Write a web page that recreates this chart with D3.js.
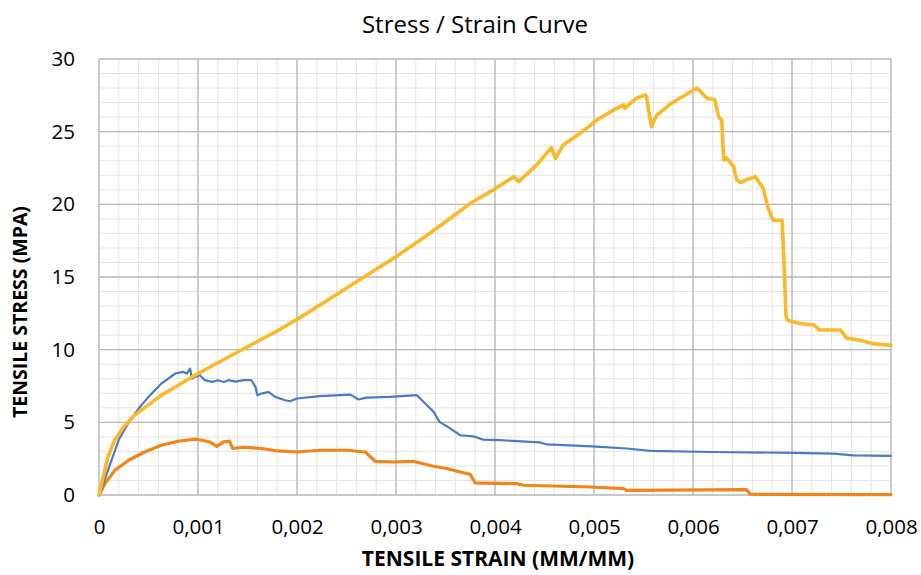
<!DOCTYPE html>
<html lang="en">
<head>
  <meta charset="UTF-8">
  <title>Stress / Strain Curve</title>
  <script src="https://d3js.org/d3.v7.min.js"></script>
  <style>
    body { margin: 0; background: #fff; }
    text { font-family: "Open Sans", "Liberation Sans", sans-serif; fill: #000; }
  </style>
</head>
<body>
  <script>
    // data: [strain, stress]
    const yellowSeries = [
      [0, 0], [0.00004, 1.2], [0.00009, 2.6], [0.00016, 3.8], [0.00025, 4.7], [0.00036, 5.5],
      [0.0005, 6.2], [0.00063, 6.87], [0.0008, 7.55], [0.00097, 8.24], [0.0012, 9.1], [0.0015, 10.2],
      [0.00183, 11.4], [0.0021, 12.5], [0.0024, 13.8], [0.0027, 15.1], [0.003, 16.4], [0.0033, 17.8],
      [0.0036, 19.3], [0.00375, 20.07], [0.00398, 20.98], [0.00419, 21.9], [0.00424, 21.56],
      [0.00442, 22.7], [0.00457, 23.9], [0.00461, 23.17], [0.00469, 24.08], [0.00486, 24.89],
      [0.00503, 25.8], [0.0052, 26.5], [0.0053, 26.84], [0.00531, 26.6], [0.00543, 27.3],
      [0.00552, 27.53], [0.00553, 27.4], [0.00558, 25.34], [0.00563, 26.1], [0.00577, 26.9],
      [0.00604, 28.0], [0.00614, 27.3], [0.00622, 27.2], [0.00626, 26.0], [0.00629, 25.8],
      [0.00631, 23.05], [0.00634, 23.2], [0.00641, 22.6], [0.00644, 21.7], [0.00648, 21.5],
      [0.00654, 21.7], [0.00663, 21.9], [0.00671, 21.1], [0.00676, 19.7], [0.00681, 18.9],
      [0.0069, 18.9], [0.00691, 17.5], [0.00694, 12.3], [0.00696, 12.0], [0.00708, 11.8],
      [0.00722, 11.7], [0.00728, 11.35], [0.00749, 11.35], [0.00755, 10.8], [0.00769, 10.65],
      [0.00782, 10.4], [0.008, 10.3]
    ];
    const blueSeries = [
      [0, 0], [0.00001, 0.1], [0.00009, 1.7], [0.0002, 3.8], [0.0003, 5.0], [0.0004, 5.95],
      [0.0005, 6.75], [0.00063, 7.67], [0.00077, 8.36], [0.00085, 8.47], [0.00089, 8.36],
      [0.00092, 8.7], [0.00094, 8.0], [0.00097, 8.13], [0.00102, 8.24], [0.00107, 7.9],
      [0.00114, 7.78], [0.0012, 7.9], [0.00126, 7.78], [0.00131, 7.9], [0.00138, 7.8],
      [0.00146, 7.9], [0.00154, 7.9], [0.00158, 7.44], [0.0016, 6.87], [0.00164, 6.98],
      [0.00171, 7.09], [0.00178, 6.75], [0.00188, 6.52], [0.00193, 6.45], [0.002, 6.64],
      [0.00223, 6.8], [0.00254, 6.91], [0.00262, 6.57], [0.0027, 6.7], [0.00294, 6.75],
      [0.00321, 6.87], [0.00328, 6.4], [0.00338, 5.72], [0.00344, 5.03], [0.00355, 4.57],
      [0.00365, 4.11], [0.00378, 4.04], [0.00388, 3.81], [0.00405, 3.77], [0.00445, 3.62],
      [0.00452, 3.49], [0.00498, 3.35], [0.00533, 3.2], [0.00557, 3.03], [0.0062, 2.96],
      [0.00701, 2.9], [0.00742, 2.85], [0.00762, 2.73], [0.008, 2.69]
    ];
    const orangeSeries = [
      [0, 0], [0.00006, 0.78], [0.00016, 1.7], [0.0003, 2.39], [0.00046, 2.96], [0.00063, 3.42],
      [0.0008, 3.7], [0.00097, 3.84], [0.00104, 3.77], [0.00112, 3.65], [0.00119, 3.35],
      [0.00126, 3.65], [0.00132, 3.7], [0.00135, 3.2], [0.00147, 3.3], [0.00164, 3.2],
      [0.00181, 3.03], [0.002, 2.96], [0.00223, 3.08], [0.0025, 3.08], [0.00269, 2.96],
      [0.00279, 2.32], [0.00297, 2.27], [0.00317, 2.32], [0.00338, 1.98], [0.00351, 1.82],
      [0.00365, 1.58], [0.00375, 1.43], [0.0038, 0.83], [0.00422, 0.78], [0.00429, 0.67],
      [0.00497, 0.55], [0.0053, 0.44], [0.00533, 0.32], [0.00654, 0.37], [0.00658, 0.05],
      [0.008, 0.03]
    ];
    const xTicks = [0, 0.001, 0.002, 0.003, 0.004, 0.005, 0.006, 0.007, 0.008];
    const yTicks = [0, 5, 10, 15, 20, 25, 30];

    const width = 921, height = 575;
    const margin = { top: 59, right: 30, bottom: 80, left: 99 };

    const svg = d3.select("body").append("svg")
      .attr("width", width)
      .attr("height", height);

    const x = d3.scaleLinear().domain([0, 0.008]).range([margin.left, width - margin.right]);
    const y = d3.scaleLinear().domain([0, 30]).range([height - margin.bottom, margin.top]);

    // minor grid
    const grid = svg.append("g");
    grid.selectAll(".minor-x")
      .data(d3.range(0, 41).map(i => i * 0.0002))
      .enter().append("line")
      .attr("x1", d => x(d)).attr("x2", d => x(d))
      .attr("y1", y(0)).attr("y2", y(30))
      .attr("stroke", "#e3e3e3").attr("stroke-width", 1);
    grid.selectAll(".minor-y")
      .data(d3.range(0, 31))
      .enter().append("line")
      .attr("x1", x(0)).attr("x2", x(0.008))
      .attr("y1", d => y(d)).attr("y2", d => y(d))
      .attr("stroke", "#e3e3e3").attr("stroke-width", 1);

    // major grid
    grid.selectAll(".major-x")
      .data(xTicks)
      .enter().append("line")
      .attr("x1", d => x(d)).attr("x2", d => x(d))
      .attr("y1", y(0)).attr("y2", y(30))
      .attr("stroke", "#b8b8b8").attr("stroke-width", 1.3);
    grid.selectAll(".major-y")
      .data(yTicks)
      .enter().append("line")
      .attr("x1", x(0)).attr("x2", x(0.008))
      .attr("y1", d => y(d)).attr("y2", d => y(d))
      .attr("stroke", "#b8b8b8").attr("stroke-width", 1.3);

    // axes (labels only)
    const fmt = d => d === 0 ? "0" : d.toFixed(3).replace(".", ",");
    const xAxis = svg.append("g")
      .attr("transform", `translate(0, ${y(0)})`)
      .call(d3.axisBottom(x).tickValues(xTicks).tickFormat(fmt).tickSize(0).tickPadding(24));
    const yAxis = svg.append("g")
      .attr("transform", `translate(${x(0)}, 0)`)
      .call(d3.axisLeft(y).tickValues(yTicks).tickSize(0).tickPadding(24));
    [xAxis, yAxis].forEach(a => {
      a.select(".domain").remove();
      a.selectAll("text")
        .style("font-family", "'Open Sans', sans-serif")
        .style("font-size", "20.5px")
        .attr("fill", "#000");
    });

    // lines
    const line = d3.line().x(d => x(d[0])).y(d => y(d[1]));
    const series = [
      { data: orangeSeries, color: "#f08519", w: 3.2 },
      { data: blueSeries, color: "#4a7cc4", w: 2.2 },
      { data: yellowSeries, color: "#fbb829", w: 3.6 }
    ];
    svg.selectAll(".series")
      .data(series)
      .enter().append("path")
      .attr("d", d => line(d.data))
      .attr("fill", "none")
      .attr("stroke", d => d.color)
      .attr("stroke-width", d => d.w)
      .attr("stroke-linejoin", "round")
      .attr("stroke-linecap", "round");

    // titles
    svg.append("text")
      .attr("x", 475).attr("y", 33)
      .attr("text-anchor", "middle")
      .style("font-size", "24px")
      .text("Stress / Strain Curve");

    svg.append("text")
      .attr("x", 498).attr("y", 566)
      .attr("text-anchor", "middle")
      .style("font-size", "21px")
      .style("font-weight", "bold")
      .text("TENSILE STRAIN (MM/MM)");

    svg.append("text")
      .attr("transform", "translate(27, 312) rotate(-90)")
      .attr("text-anchor", "middle")
      .style("font-size", "19.5px")
      .style("font-weight", "bold")
      .text("TENSILE STRESS (MPA)");
  </script>
</body>
</html>
